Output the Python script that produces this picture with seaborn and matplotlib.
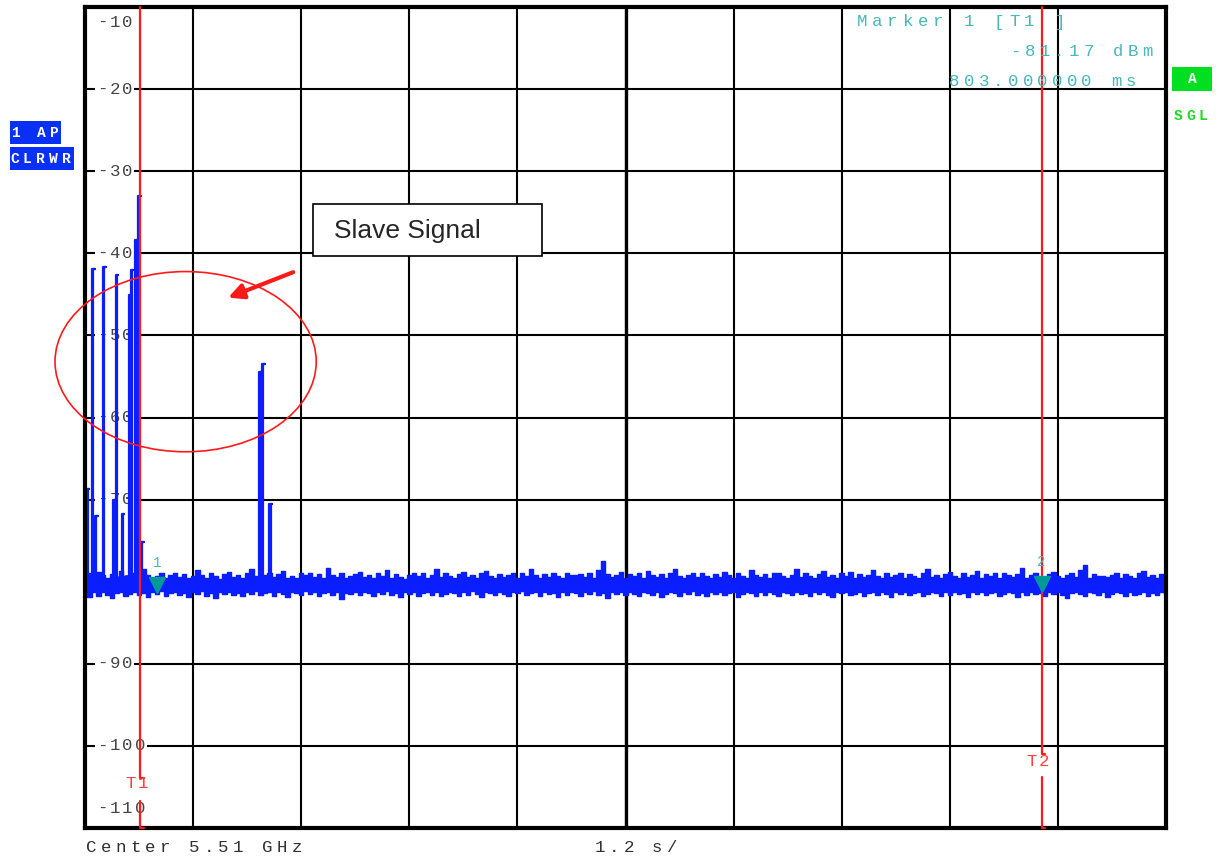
import numpy as np
import pandas as pd
import seaborn as sns
import matplotlib.pyplot as plt
from matplotlib.patches import Ellipse, Rectangle
from matplotlib.transforms import IdentityTransform, offset_copy, blended_transform_factory

# sweep: 12 s span (1.2 s/div), level -110 .. -10 dBm
# noise floor envelope (auto peak detector), one value every 50 ms
noise_hi = [
    -79.3, -79.0, -79.5, -78.8, -79.2, -79.6, -79.1, -79.4, -78.7, -79.3, -79.5, -79.0, -79.4, -78.5, -79.2, -79.6, -79.3, -79.0, -79.5, -79.2,
    -78.9, -79.4, -79.1, -79.6, -79.3, -78.6, -79.2, -79.5, -79.0, -79.3, -79.7, -79.1, -78.8, -79.4, -79.2, -79.5, -79.0, -78.4, -79.3, -79.6,
    -79.2, -79.0, -79.4, -79.1, -78.7, -79.5, -79.3, -79.6, -79.0, -79.2, -78.9, -79.4, -79.1, -79.5, -78.3, -79.2, -79.4, -79.0, -79.6, -79.3,
    -79.1, -78.8, -79.4, -79.2, -79.5, -79.0, -79.3, -78.6, -79.5, -79.1, -79.4, -79.7, -79.2, -78.9, -79.3, -79.0, -79.5, -79.2, -78.5, -79.4,
    -79.0, -79.3, -79.6, -79.1, -78.8, -79.4, -79.2, -79.5, -79.0, -78.7, -79.3, -79.6, -79.1, -79.4, -79.2, -78.9, -79.5, -79.0, -79.3, -78.4,
    -79.2, -79.5, -79.1, -79.4, -78.9, -79.3, -79.6, -79.0, -79.2, -79.2, -79.1, -79.4, -79.0, -79.5, -78.6, -77.5, -79.1, -79.4, -79.2, -78.8,
    -79.5, -79.1, -79.3, -79.0, -79.6, -78.7, -79.2, -79.4, -79.1, -79.5, -79.0, -78.5, -79.3, -79.6, -79.2, -79.0, -79.4, -78.9, -79.3, -79.5,
    -79.1, -79.4, -78.8, -79.2, -79.5, -79.0, -79.3, -79.6, -78.6, -79.2, -79.4, -79.1, -79.5, -79.0, -78.9, -79.3, -79.6, -79.2, -78.4, -79.4,
    -79.0, -79.3, -79.5, -79.1, -78.7, -79.4, -79.2, -79.6, -79.0, -79.3, -78.8, -79.5, -79.1, -79.4, -79.2, -78.6, -79.3, -79.5, -79.0, -79.4,
    -79.2, -78.9, -79.5, -79.1, -79.3, -79.6, -79.0, -78.5, -79.4, -79.2, -79.5, -79.1, -78.8, -79.3, -79.6, -79.0, -79.4, -79.2, -78.7, -79.5,
    -79.1, -79.3, -79.0, -79.6, -78.9, -79.2, -79.4, -79.1, -78.3, -79.5, -79.2, -79.0, -79.4, -79.6, -79.1, -78.8, -79.3, -79.5, -79.2, -79.0,
    -79.4, -78.6, -78.0, -79.5, -79.1, -79.3, -79.3, -79.4, -79.2, -78.9, -79.5, -79.1, -79.3, -79.6, -79.0, -78.7, -79.4, -79.2, -79.5, -79.1,
    -79.3,
]
noise_lo = [
    -81.5, -81.9, -81.3, -81.7, -81.2, -81.6, -82.0, -81.4, -81.3, -81.8, -81.5, -81.2, -81.6, -81.4, -81.9, -81.3, -81.5, -81.1, -81.7, -81.4,
    -81.2, -81.6, -81.4, -81.9, -81.3, -81.5, -81.1, -81.7, -81.4, -82.0, -81.3, -81.5, -81.2, -81.6, -81.4, -81.8, -81.3, -81.5, -81.1, -81.6,
    -81.4, -81.2, -81.7, -81.3, -81.5, -81.9, -81.2, -81.4, -81.6, -81.1, -81.5, -81.3, -81.8, -81.4, -81.2, -81.6, -81.3, -82.1, -81.4, -81.5,
    -81.3, -81.6, -81.2, -81.4, -81.8, -81.3, -81.5, -81.1, -81.6, -81.4, -81.9, -81.2, -81.5, -81.3, -81.7, -81.4, -81.2, -81.6, -81.3, -81.8,
    -81.5, -81.2, -81.4, -81.7, -81.3, -81.6, -81.1, -81.5, -81.9, -81.3, -81.4, -81.6, -81.2, -81.5, -81.8, -81.3, -81.4, -81.1, -81.6, -81.4,
    -81.3, -81.7, -81.2, -81.5, -81.4, -81.9, -81.3, -81.6, -81.2, -81.4, -81.8, -81.3, -81.5, -81.1, -81.6, -81.4, -82.0, -81.3, -81.5, -81.2,
    -81.6, -81.3, -81.5, -81.8, -81.2, -81.4, -81.6, -81.3, -81.9, -81.5, -81.2, -81.4, -81.7, -81.3, -81.5, -81.1, -81.6, -81.4, -81.8, -81.3,
    -81.5, -81.2, -81.6, -81.4, -81.3, -81.9, -81.5, -81.2, -81.4, -81.7, -81.3, -81.6, -81.2, -81.5, -81.8, -81.3, -81.4, -81.6, -81.2, -81.5,
    -81.4, -81.7, -81.3, -81.5, -81.2, -81.6, -81.9, -81.3, -81.4, -81.2, -81.6, -81.5, -81.3, -81.8, -81.4, -81.2, -81.6, -81.3, -81.5, -81.9,
    -81.3, -81.5, -81.2, -81.6, -81.4, -81.3, -81.8, -81.5, -81.2, -81.4, -81.7, -81.3, -81.6, -81.2, -81.5, -81.4, -81.9, -81.3, -81.5, -81.2,
    -81.6, -81.4, -81.3, -81.7, -81.5, -81.2, -81.4, -81.9, -81.3, -81.6, -81.2, -81.5, -81.4, -81.8, -81.3, -81.5, -81.2, -81.6, -82.0, -81.4,
    -81.3, -81.5, -81.7, -81.2, -81.4, -81.6, -81.3, -81.9, -81.5, -81.2, -81.4, -81.7, -81.3, -81.6, -81.5, -81.2, -81.8, -81.4, -81.6, -81.3,
    -81.5,
]

# bursts (s, dBm): master beacons at the start, slave signal near 2 s
burst_t = [0.019, 0.081, 0.111, 0.203, 0.314, 0.341, 0.408, 0.483, 0.508, 0.556, 0.590, 0.622,
           1.926, 1.963, 2.048]
burst_peak = [-68.7, -41.9, -72.0, -41.7, -70.1, -42.6, -71.7, -45.1, -42.0, -38.4, -33.0, -75.2,
              -54.5, -53.5, -70.5]
FLOOR = -80.5

time_lines = [0.611, 10.62]          # T1, T2
marker_t = [0.803, 10.62]
marker_lvl = [-81.17, -81.0]

y_levels = list(range(-10, -111, -10))

BLUE = "#0a1eff"
RED = "#ff1a1a"
TEAL = "#009a96"
TEAL_TXT = "#46b8b8"
GRAY = "#454545"
MONO = "Liberation Mono"
FS = 12.5

W, H = 1223, 859
sns.set_style("white")
fig = plt.figure(figsize=(12.23, 8.59), dpi=100)
ax = fig.add_axes([85 / W, 1 - 828 / H, 1081 / W, 821 / H])
ax.set_xlim(0, 12)
ax.set_ylim(-110, -10)
ax.set_xticks(np.arange(0, 12.01, 1.2))
ax.set_yticks(y_levels)
ax.grid(True, color="black", lw=1.5, zorder=0.5)
ax.set_axisbelow(True)
ax.axvline(6, color="black", lw=2.4, zorder=0.6)
ax.tick_params(length=0, labelbottom=False, labelleft=False)
for sp in ax.spines.values():
    sp.set_linewidth(3)
    sp.set_color("black")

px = IdentityTransform()


def spaced(target, x, y, s, pitch, tr, **kw):
    # instrument font: fixed pitch with wide letter spacing
    for i, ch in enumerate(s):
        if ch != " ":
            target.text(x + i * pitch, y, ch, transform=tr, **kw)


# level labels drawn inside the grid
ylab_tr = blended_transform_factory(px, ax.transData)
for v in y_levels:
    yv = v
    if v == -10:
        yv = -11.9
    if v == -110:
        yv = -107.6
    spaced(ax, 97, yv, str(v), 12.5, ylab_tr, family=MONO, fontsize=FS, color=GRAY,
           ha="left", va="center", zorder=1.5,
           bbox=dict(fc="white", ec="none", pad=1.5))

# trace
t = np.linspace(0, 12, len(noise_hi))
df = pd.DataFrame({"t": t, "hi": noise_hi, "lo": noise_lo})
ax.fill_between(df["t"], df["lo"], df["hi"], step="mid", color=BLUE, lw=0, zorder=2)
sns.lineplot(data=df, x="t", y="hi", drawstyle="steps-mid", color=BLUE, lw=1.0, ax=ax, zorder=2)
sns.lineplot(data=df, x="t", y="lo", drawstyle="steps-mid", color=BLUE, lw=1.0, ax=ax, zorder=2)
for bt, bp in zip(burst_t, burst_peak):
    ax.plot([bt, bt, bt + 0.03, bt + 0.012, bt + 0.012], [FLOOR, bp, bp, bp, FLOOR],
            color=BLUE, lw=1.6, zorder=2)
ax.set_xlabel("")
ax.set_ylabel("")

# time lines T1 / T2
gaps = [(-103.9, -106.7), (-101.0, -103.8)]
for tl, (g1, g2) in zip(time_lines, gaps):
    ax.plot([tl, tl, tl + 0.04], [-10, g1, g1], color=RED, lw=1.6, zorder=3, clip_on=False)
    ax.plot([tl, tl, tl + 0.04], [g2, -110, -110], color=RED, lw=1.6, zorder=3, clip_on=False)
spaced(ax, 125, H - 784, "T1", 13, px, family=MONO, fontsize=FS, color="#ff4040",
       ha="left", va="center", zorder=3)
spaced(ax, 1026, H - 761, "T2", 13, px, family=MONO, fontsize=FS, color="#ff4040",
       ha="left", va="center", zorder=3)

# markers
tri_tr = offset_copy(ax.transData, fig=fig, x=0, y=6, units="dots")
ax.plot(marker_t, marker_lvl, "v", ms=11, color=TEAL, mec=TEAL, transform=tri_tr, zorder=4)
for i, (mt, ml) in enumerate(zip(marker_t, marker_lvl)):
    ax.annotate(str(i + 1), (mt, ml), xytext=(0, 28), textcoords="offset pixels",
                ha="center", va="center", family=MONO, fontsize=10, color=TEAL_TXT, zorder=4)

# annotations
ax.add_patch(Ellipse((1.117, -53.2), 2.9, 21.95, fill=False, ec=RED, lw=1.2,
                     clip_on=False, zorder=6))
ax.annotate("", xy=(1.589, -45.4), xytext=(2.311, -42.3),
            arrowprops=dict(arrowstyle="-|>,head_length=0.9,head_width=0.45", color=RED,
                            lw=3, shrinkA=0, shrinkB=0), zorder=6)
ax.add_patch(Rectangle((2.533, -40.37), 2.545, 6.35, fc="white", ec="black", lw=1.2, zorder=6))
ax.text(2.767, -37.23, "Slave Signal", family="Liberation Sans", fontsize=19,
        ha="left", va="center", zorder=7)

# instrument readouts
spaced(fig, 857, H - 22, "Marker 1 [T1 ]", 15.2, px, family=MONO, fontsize=FS,
       color=TEAL_TXT, ha="left", va="center")
spaced(fig, 1010, H - 52, "-81.17 dBm", 14.7, px, family=MONO, fontsize=FS,
       color=TEAL_TXT, ha="left", va="center")
spaced(fig, 949, H - 81, "803.000000 ms", 14.7, px, family=MONO, fontsize=FS,
       color=TEAL_TXT, ha="left", va="center")
spaced(fig, 86, H - 847, "Center 5.51 GHz", 14.7, px, family=MONO, fontsize=FS,
       color="#303030", ha="left", va="center")
spaced(fig, 595, H - 847, "1.2 s/", 14.2, px, family=MONO, fontsize=FS,
       color="#303030", ha="left", va="center")

# side badges
fig.add_artist(Rectangle((10, H - 144), 51, 23, transform=px, fc="#0a30f5", ec="none"))
fig.add_artist(Rectangle((10, H - 170), 64, 23, transform=px, fc="#0a30f5", ec="none"))
spaced(fig, 11, H - 133, "1 AP", 13, px, family=MONO, fontsize=10.5, weight="bold",
       color="white", ha="left", va="center")
spaced(fig, 10, H - 159, "CLRWR", 12.9, px, family=MONO, fontsize=10.5, weight="bold",
       color="white", ha="left", va="center")
fig.add_artist(Rectangle((1172, H - 91), 40, 24, transform=px, fc="#00e020", ec="none"))
fig.text(1192, H - 79, "A", transform=px, family=MONO, fontsize=10.5, weight="bold",
         color="white", ha="center", va="center")
spaced(fig, 1174, H - 116, "SGL", 12.5, px, family=MONO, fontsize=10.5, weight="bold",
       color="#20d820", ha="left", va="center")

fig.savefig("out.png", dpi=100)
